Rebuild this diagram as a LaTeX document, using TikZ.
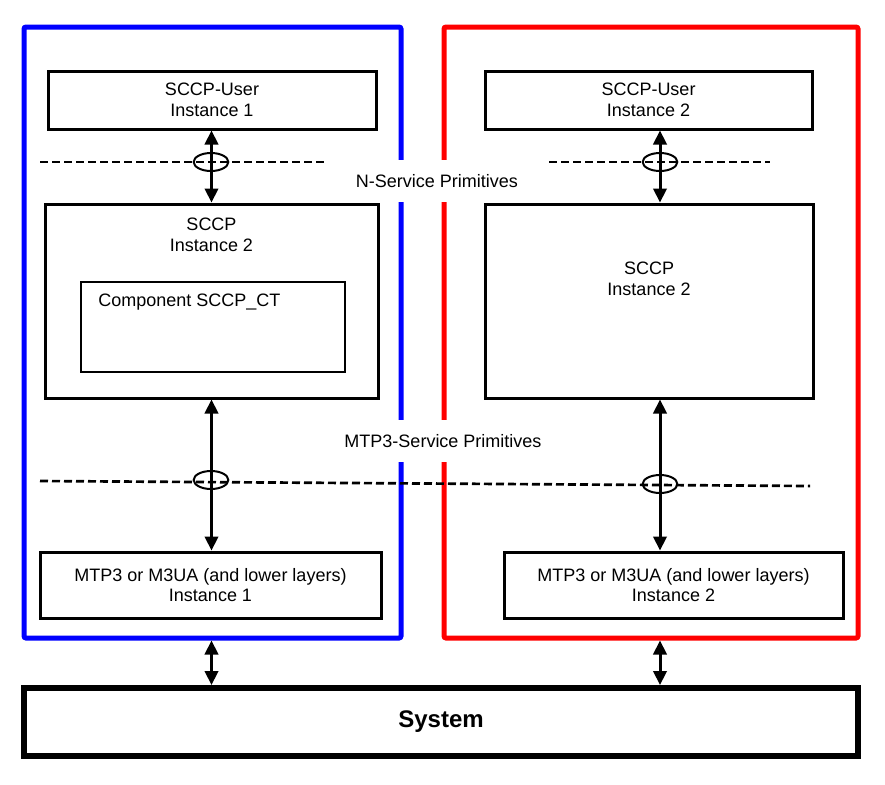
\documentclass[tikz,border=0pt]{standalone}
\usepackage{fontspec}
\setmainfont{Liberation Sans}
\usetikzlibrary{arrows.meta,positioning}
\tikzset{
  box/.style={draw, line width=2.25pt, align=center, inner sep=0pt},
  frame/.style={draw, line width=3.75pt, rounded corners=1.5pt, inner sep=0pt},
  link/.style={{Triangle[length=10.5pt,width=10pt]}-{Triangle[length=10.5pt,width=10pt]}, line width=2.25pt},
  sap/.style={line width=2pt, dash pattern=on 6pt off 3pt},
  ring/.style={draw, line width=1.5pt, x radius=13pt, y radius=6.75pt},
  prim/.style={fill=white, minimum height=32pt, inner sep=2pt}
}
\begin{document}
\begin{tikzpicture}[x=0.75pt, y=-0.75pt, every node/.style={font=\fontsize{13.5pt}{15.5pt}\selectfont}]
    \useasboundingbox (0,0) rectangle (885,785);
    \coordinate (l) at (211.5,0);
    \coordinate (r) at (660,0);

    %instances
    \node[frame, draw=blue, minimum width=282.75pt, minimum height=458.25pt] (blue) at (212.5,332.5) {};
    \node[frame, draw=red, minimum width=310.5pt, minimum height=458.25pt] (red) at (651,332.5) {};

    \node[prim] (nsp) at (437,181) {N-Service Primitives};
    \node[prim] (msp) at (443,441) {MTP3-Service Primitives};

    %left stack
    \node[box, minimum width=246pt, minimum height=43.5pt] (user1) at (212,100) {SCCP-User\\Instance 1};
    \node[box, minimum width=249.75pt, minimum height=145.5pt] (sccp1) at (211.5,301) {};
    \node[below=8pt of sccp1.north, align=center] (sccp1txt) {SCCP\\Instance 2};
    \node[draw, line width=1.5pt, minimum width=198pt, minimum height=67.5pt] (comp) at (213,327) {};
    \node[anchor=west, inner sep=0pt] (comptxt) at (98,302) {Component SCCP\_CT};
    \node[box, minimum width=255.75pt, minimum height=49.5pt] (mtp1) at (210.5,585) {MTP3 or M3UA (and lower layers)\\Instance 1};

    %right stack
    \node[box, minimum width=245.25pt, minimum height=43.5pt] (user2) at (648.5,100) {SCCP-User\\Instance 2};
    \node[box, minimum width=246pt, minimum height=145.5pt] (sccp2) at (649,301) {};
    \node[align=center] (sccp2txt) at (649,279) {SCCP\\Instance 2};
    \node[box, minimum width=254.25pt, minimum height=49.5pt] (mtp2) at (673.5,585) {MTP3 or M3UA (and lower layers)\\Instance 2};

    \node[box, line width=4.5pt, minimum width=625.5pt, minimum height=51pt, font=\fontsize{18pt}{20pt}\selectfont\bfseries] (system) at (441,722) {System};

    %arrows
    \draw[link] (user1.south -| l) -- (sccp1.north -| l);
    \draw[link] (sccp1.south -| l) -- (mtp1.north -| l);
    \draw[link] (blue.south -| l) -- (system.north -| l);
    \draw[link] (user2.south -| r) -- (sccp2.north -| r);
    \draw[link] (sccp2.south -| r) -- (mtp2.north -| r);
    \draw[link] (red.south -| r) -- (system.north -| r);

    %service access points
    \draw[sap] (40,162) -- (325,162);
    \draw[sap] (549,162) -- (770,162);
    \draw[sap] (40,481) -- (810,486);
    \draw[ring] (211,162) ellipse[];
    \draw[ring] (660,162) ellipse[];
    \draw[ring] (211,480) ellipse[];
    \draw[ring] (660,484) ellipse[];
\end{tikzpicture}
\end{document}
